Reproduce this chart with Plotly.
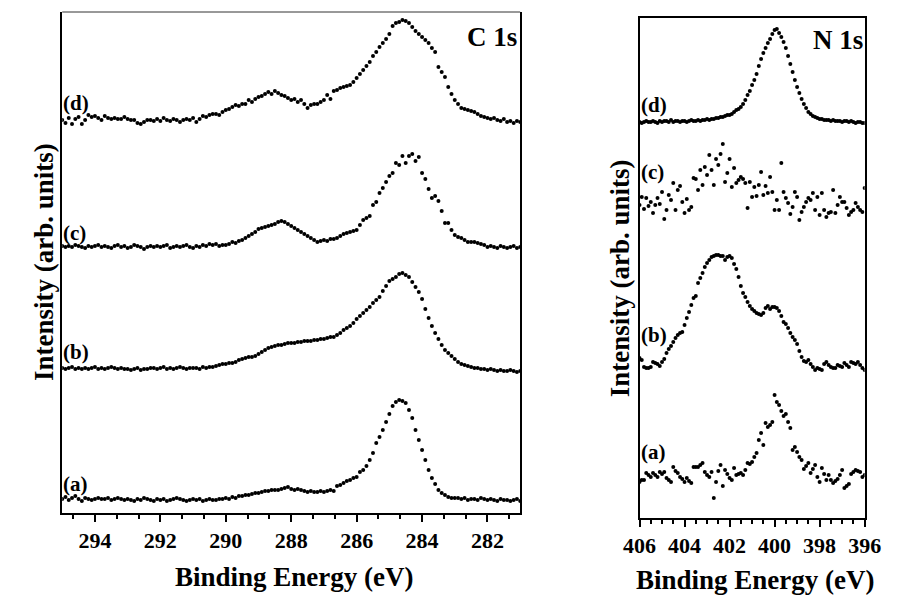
import plotly.graph_objects as go

# ---------------- data ----------------
# C 1s spectra: binding energy grid 295.0 -> 281.0 eV, step 0.1 eV
C_E_START, C_E_STEP = 295.0, 0.1
C_A = [1, 3, 0, 2, 4, 1, -1, 2, 1, 0,
       1, 2, 1, 1, 2, 0, 1, 2, 1, 0,
       1, 0, -1, 1, 0, 2, 1, 0, -1, 1,
       0, 1, -1, 0, 1, 2, 1, 0, -1, 0,
       1, 0, 1, -1, 0, 1, 0, 0, 1, 1,
       2, 1, 3, 2, 4, 4, 5, 5, 6, 7,
       7, 8, 9, 9, 10, 10, 10, 11, 12, 13,
       11, 10, 11, 10, 9, 8, 9, 8, 8, 9,
       8, 9, 10, 9, 14, 15, 17, 19, 20, 22,
       23, 28, 30, 34, 40, 47, 57, 63, 70, 78,
       86, 94, 98, 100, 99, 97, 90, 82, 70, 60,
       50, 40, 30, 22, 16, 10, 7, 5, 3, 2,
       2, 2, 1, 2, 0, 1, 1, 0, 2, 1,
       0, 1, 0, -1, 1, 0, 0, -1, 0, 1, -1]
C_B = [1, 0, 1, 2, 0, 1, 0, 1, 0, 1,
       2, 0, 1, 0, 1, 2, 1, 0, 1, 0,
       0, -1, 0, 1, -1, 0, 0, 1, 1, 0,
       1, 2, 0, 1, 0, 1, 2, 1, 0, 1,
       1, 1, 0, 2, 1, 2, 2, 3, 4, 5,
       5, 6, 6, 7, 9, 10, 11, 12, 12, 13,
       15, 17, 19, 21, 22, 23, 24, 24, 25, 26,
       26, 26, 27, 27, 28, 28, 28, 29, 29, 30,
       30, 31, 32, 32, 34, 36, 39, 41, 43, 46,
       50, 53, 56, 59, 62, 66, 69, 72, 78, 83,
       88, 90, 92, 95, 96, 94, 92, 87, 82, 77,
       70, 60, 51, 43, 36, 30, 24, 19, 16, 13,
       10, 7, 5, 4, 3, 2, 1, 1, 0, 0,
       -1, 0, -1, -2, -1, -2, -2, -1, -2, -3, -2]
C_C = [1, 0, 1, 0, 2, 1, 0, -1, 1, 0,
       1, 2, 0, 1, 0, -1, 1, 2, 0, 1,
       -1, 0, 2, 1, 0, -2, 0, 1, 0, 1,
       0, 1, 2, -1, 0, 1, 0, 1, 2, 0,
       -1, 1, 0, 2, 1, 3, 2, 3, 1, 2,
       2, 3, 5, 4, 6, 7, 9, 11, 13, 15,
       18, 19, 20, 21, 22, 23, 25, 26, 25, 23,
       21, 19, 17, 15, 13, 11, 9, 7, 5, 6,
       7, 6, 8, 8, 9, 11, 13, 14, 15, 16,
       17, 22, 27, 29, 31, 42, 45, 54, 59, 65,
       71, 74, 84, 82, 91, 84, 91, 93, 86, 90,
       74, 68, 58, 49, 51, 46, 36, 24, 24, 17,
       12, 10, 9, 7, 5, 5, 5, 4, 3, 2,
       0, 1, 0, -1, 1, 0, -1, 0, 1, -1, 0]
C_D = [2, -1, 4, -2, 3, 5, -2, 2, 7, 5,
       6, 4, 2, 6, 4, 3, 4, 3, 3, 5,
       3, 2, 2, -1, -2, 0, 2, 2, 1, 3,
       1, 4, 2, 1, 3, 2, 0, 2, 3, 2,
       4, 0, 3, 6, 5, 7, 8, 8, 7, 10,
       12, 13, 15, 17, 16, 18, 18, 22, 20, 23,
       25, 26, 28, 30, 28, 31, 29, 27, 26, 24,
       22, 23, 20, 22, 18, 14, 17, 18, 18, 20,
       22, 27, 23, 31, 32, 34, 35, 36, 37, 40,
       44, 48, 52, 56, 60, 66, 70, 75, 79, 83,
       88, 96, 99, 100, 102, 101, 99, 95, 91, 88,
       85, 82, 79, 74, 70, 55, 50, 45, 35, 28,
       22, 18, 14, 13, 12, 11, 10, 8, 6, 5,
       4, 3, 4, 2, 1, 3, 0, 1, -1, 1, 0]

# N 1s spectra: binding energy grid 406.0 -> 396.0 eV, step 0.1 eV
N_E_START, N_E_STEP = 406.0, 0.1
N_A = [-5, -3, -3, 4, 2, 0, 4, 2, 0, 5,
       3, 5, -1, -3, -5, 10, 6, 4, 0, -2,
       -5, -1, -4, -6, 10, 10, 10, 12, 14, 5,
       2, 0, 5, -21, -5, 6, 12, -9, 7, 3,
       -1, -3, 9, 2, 3, 4, 2, 7, 14, 13,
       15, 20, 24, 37, 44, 32, 54, 50, 52, 55,
       82, 75, 72, 66, 61, 63, 55, 49, 27, 30,
       25, 20, 17, 8, 11, 14, 4, 8, 12, 0,
       -5, 9, 3, -3, 2, -3, -6, -4, -2, 2,
       7, -11, -9, -7, 3, 5, 7, 6, 5, 0, 2]
N_B = [10, 8, 1, 0, 0, 1, 6, 5, 4, 2,
       6, 9, 15, 19, 22, 26, 30, 33, 35, 36,
       43, 50, 56, 63, 70, 72, 85, 90, 95, 101,
       105, 108, 111, 112, 113, 113, 112, 112, 108, 111,
       112, 110, 104, 99, 91, 82, 75, 71, 66, 62,
       59, 57, 55, 54, 53, 55, 60, 62, 59, 61,
       61, 60, 57, 52, 46, 44, 40, 35, 31, 28,
       24, 17, 11, 7, 6, 8, 4, 1, -2, 0,
       -1, -2, 4, 6, 3, 1, 0, 0, 3, 2,
       1, 5, 3, 1, 6, 5, 4, 6, 3, 0, -2]
N_C = [5, 13, 1, 12, 4, 8, -3, 5, 12, 6,
       18, -9, 0, 15, 10, 27, 0, 20, 24, 8,
       -3, 11, 0, 3, 32, 31, 20, 40, 25, 43,
       35, 55, 40, 25, 51, 45, 56, 66, 28, 37,
       51, 23, 42, 27, 30, 33, 31, 27, 2, 28,
       13, 23, 14, 25, 38, 15, 24, 17, 33, 18,
       0, 10, 0, 47, 18, 12, 7, -4, 3, 18,
       13, -10, -2, 3, 8, 12, 10, 17, 0, 13,
       -5, 17, 0, -7, -3, -2, 20, -3, 5, 13,
       8, 8, 2, -5, -2, 0, 7, 3, 0, -2, 22]
N_D = [0, -1, 0, 1, 0, 0, 1, 0, -1, 1,
       0, 1, 1, 0, 2, 0, 1, 1, 0, 1,
       1, 0, 1, 2, 1, 1, 2, 1, 2, 2,
       3, 2, 3, 3, 4, 4, 5, 5, 6, 7,
       7, 8, 10, 12, 13, 15, 18, 22, 27, 31,
       37, 42, 48, 56, 63, 69, 74, 79, 83, 88,
       92, 93, 89, 85, 80, 74, 66, 58, 50, 42,
       35, 29, 23, 18, 14, 10, 8, 6, 5, 4,
       3, 3, 2, 2, 2, 1, 2, 1, 1, 1,
       0, 1, 1, 0, 1, 0, -1, 0, 0, -1, -1]

SERIES_LABELS = ["(a)", "(b)", "(c)", "(d)"]
C_TICKS = [294, 292, 290, 288, 286, 284, 282]
N_TICKS = [406, 404, 402, 400, 398, 396]

# vertical stacking offsets (arb. units)
C_OFFSETS = [13, 144, 266, 391]
N_OFFSETS = [41, 150, 308, 396]

for arr in (C_A, C_B, C_C, C_D):
    assert len(arr) == 141, len(arr)
for arr in (N_A, N_B, N_C, N_D):
    assert len(arr) == 101, len(arr)

c_energy = [round(C_E_START - i * C_E_STEP, 2) for i in range(141)]
n_energy = [round(N_E_START - i * N_E_STEP, 2) for i in range(101)]

W, H = 898, 595
FONT = "Liberation Serif, Times New Roman, serif"


def px(x):
    return x / W


def py(y):
    return 1 - y / H


fig = go.Figure()
mk = dict(color="black", size=4, symbol="circle")
for vals, off in zip((C_A, C_B, C_C, C_D), C_OFFSETS):
    fig.add_trace(go.Scatter(x=c_energy, y=[v + off for v in vals], mode="markers",
                             marker=mk, xaxis="x", yaxis="y", showlegend=False,
                             hoverinfo="skip"))
for vals, off in zip((N_A, N_B, N_C, N_D), N_OFFSETS):
    fig.add_trace(go.Scatter(x=n_energy, y=[v + off for v in vals], mode="markers",
                             marker=mk, xaxis="x2", yaxis="y2", showlegend=False,
                             hoverinfo="skip"))

line_style = dict(showline=True, linecolor="black", linewidth=2,
                  showgrid=False, zeroline=False)
tickfont = dict(family=FONT, size=22, color="black", weight="bold")

fig.update_layout(
    width=W, height=H,
    margin=dict(l=0, r=0, t=0, b=0),
    paper_bgcolor="white", plot_bgcolor="white",
    font=dict(family=FONT, color="black"),
    xaxis=dict(domain=[px(47), px(523)], range=[295, 281], anchor="y", mirror=False,
               tickmode="array", tickvals=C_TICKS, ticks="outside", ticklen=7,
               tickwidth=2, tickcolor="black", tickfont=tickfont,
               minor=dict(ticks="outside", ticklen=4, tickwidth=2, tickcolor="black",
                          tick0=294, dtick=2 / 3),
               **line_style),
    yaxis=dict(domain=[py(513), py(12)], range=[0, 501], anchor="x", mirror=True,
               showticklabels=False, ticks="", **line_style),
    xaxis2=dict(domain=[px(647), px(881)], range=[406, 396], anchor="y2", mirror=True,
                tickmode="array", tickvals=N_TICKS, ticks="outside", ticklen=7,
                tickwidth=2, tickcolor="black", tickfont=tickfont,
                minor=dict(ticks="outside", ticklen=4, tickwidth=2, tickcolor="black",
                           tick0=396, dtick=0.5),
                **line_style),
    yaxis2=dict(domain=[py(518), py(18)], range=[0, 500], anchor="x2", mirror=True,
                showticklabels=False, ticks="", **line_style),
)

# thin top border of the C 1s frame
fig.add_shape(type="line", xref="x domain", yref="y domain", x0=0, x1=1, y0=1, y1=1,
              line=dict(color="#333333", width=1))

ann = []
lab_font = dict(family=FONT, size=21, color="black", weight="bold")
for lab, y in zip(SERIES_LABELS, [484, 352, 233, 103]):
    ann.append(dict(text=lab, x=px(46), y=py(y), xref="paper", yref="paper",
                    xanchor="left", yanchor="middle", showarrow=False, font=lab_font))
for lab, y in zip(SERIES_LABELS, [452, 335, 172, 105]):
    ann.append(dict(text=lab, x=px(646), y=py(y), xref="paper", yref="paper",
                    xanchor="left", yanchor="middle", showarrow=False, font=lab_font))
big = dict(family=FONT, size=27, color="black", weight="bold")
ann.append(dict(text="C 1s", x=px(522), y=py(37), xref="paper", yref="paper",
                xanchor="right", yanchor="middle", showarrow=False, font=big))
ann.append(dict(text="N 1s", x=px(881), y=py(40), xref="paper", yref="paper",
                xanchor="right", yanchor="middle", showarrow=False, font=big))
title_font = dict(family=FONT, size=27, color="black", weight="bold")
ann.append(dict(text="Binding Energy (eV)", x=px(288), y=py(577), xref="paper",
                yref="paper", xanchor="center", yanchor="middle", showarrow=False,
                font=title_font))
ann.append(dict(text="Binding Energy (eV)", x=px(768), y=py(580), xref="paper",
                yref="paper", xanchor="center", yanchor="middle", showarrow=False,
                font=title_font))
ann.append(dict(text="Intensity (arb. units)", x=px(28), y=py(262), xref="paper",
                yref="paper", xanchor="center", yanchor="middle", showarrow=False,
                textangle=-90, font=title_font))
ann.append(dict(text="Intensity (arb. units)", x=px(627), y=py(278), xref="paper",
                yref="paper", xanchor="center", yanchor="middle", showarrow=False,
                textangle=-90, font=title_font))
fig.update_layout(annotations=ann)

fig.write_html("out.html",
               config={"displayModeBar": False},
               post_script="document.body.style.margin='0px';"
                           "document.body.style.padding='0px';")
